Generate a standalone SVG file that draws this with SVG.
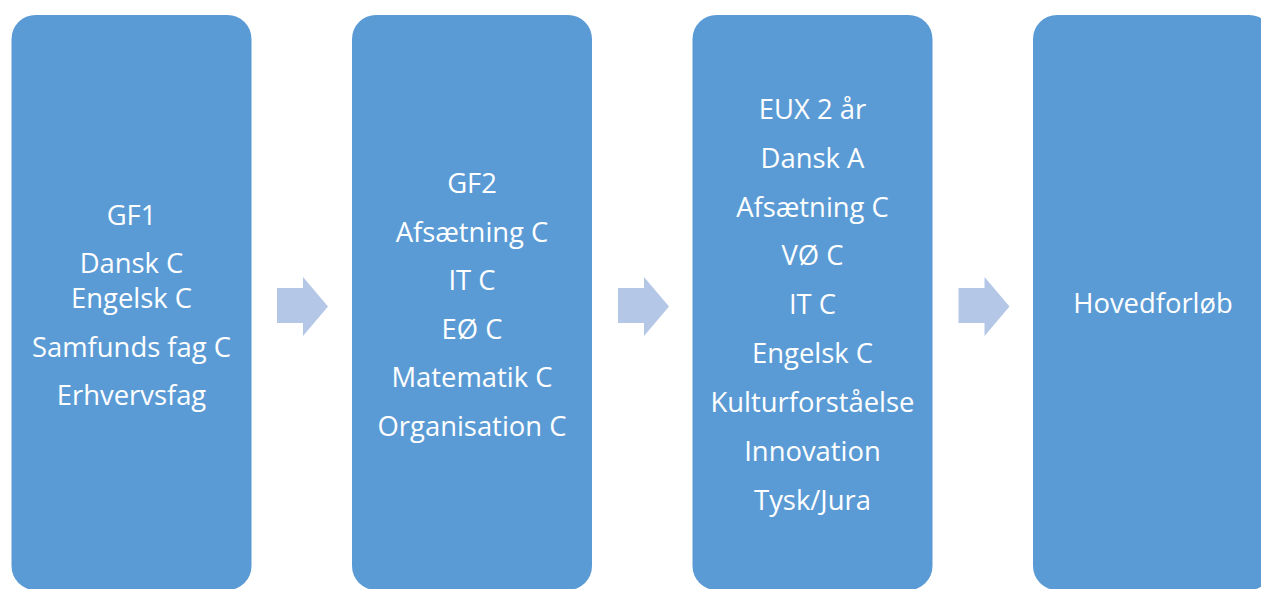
<svg xmlns="http://www.w3.org/2000/svg" width="1261" height="589" viewBox="0 0 1261 589">
  <style>
    .box { fill: #5B9BD5; }
    .arrow { fill: #B4C7E7; }
    .lbl { fill: #FFFFFF; font-family: "Open Sans", "Liberation Sans", sans-serif; font-size: 27.4px; text-anchor: middle; }
  </style>
  <defs>
    <path id="step-arrow" d="M0,11 H26 V0 L51,29.5 L26,59 V46 H0 Z"/>
  </defs>
  <rect x="0" y="0" width="1261" height="589" fill="#FFFFFF"/>

  <g id="node-gf1">
    <rect class="box" x="11.5" y="15" width="240" height="575" rx="24"/>
    <text class="lbl" x="131.5" y="225">GF1</text>
    <text class="lbl" x="131.5" y="273">Dansk C</text>
    <text class="lbl" x="131.5" y="308">Engelsk C</text>
    <text class="lbl" x="131.5" y="357">Samfunds fag C</text>
    <text class="lbl" x="131.5" y="405">Erhvervsfag</text>
  </g>

  <g id="node-gf2">
    <rect class="box" x="352" y="15" width="240" height="575" rx="24"/>
    <text class="lbl" x="472" y="193">GF2</text>
    <text class="lbl" x="472" y="242">Afsætning C</text>
    <text class="lbl" x="472" y="290">IT C</text>
    <text class="lbl" x="472" y="339">EØ C</text>
    <text class="lbl" x="472" y="387">Matematik C</text>
    <text class="lbl" x="472" y="436">Organisation C</text>
  </g>

  <g id="node-eux">
    <rect class="box" x="692.5" y="15" width="240" height="575" rx="24"/>
    <text class="lbl" x="812.5" y="119">EUX 2 år</text>
    <text class="lbl" x="812.5" y="168">Dansk A</text>
    <text class="lbl" x="812.5" y="217">Afsætning C</text>
    <text class="lbl" x="812.5" y="265">VØ C</text>
    <text class="lbl" x="812.5" y="314">IT C</text>
    <text class="lbl" x="812.5" y="363">Engelsk C</text>
    <text class="lbl" x="812.5" y="412">Kulturforståelse</text>
    <text class="lbl" x="812.5" y="461">Innovation</text>
    <text class="lbl" x="812.5" y="510">Tysk/Jura</text>
  </g>

  <g id="node-hovedforloeb">
    <rect class="box" x="1033" y="15" width="240" height="575" rx="24"/>
    <text class="lbl" x="1153" y="313">Hovedforløb</text>
  </g>

  <g id="connectors">
    <use href="#step-arrow" class="arrow" x="277" y="277"/>
    <use href="#step-arrow" class="arrow" x="618" y="277"/>
    <use href="#step-arrow" class="arrow" x="958.5" y="277"/>
  </g>
</svg>
